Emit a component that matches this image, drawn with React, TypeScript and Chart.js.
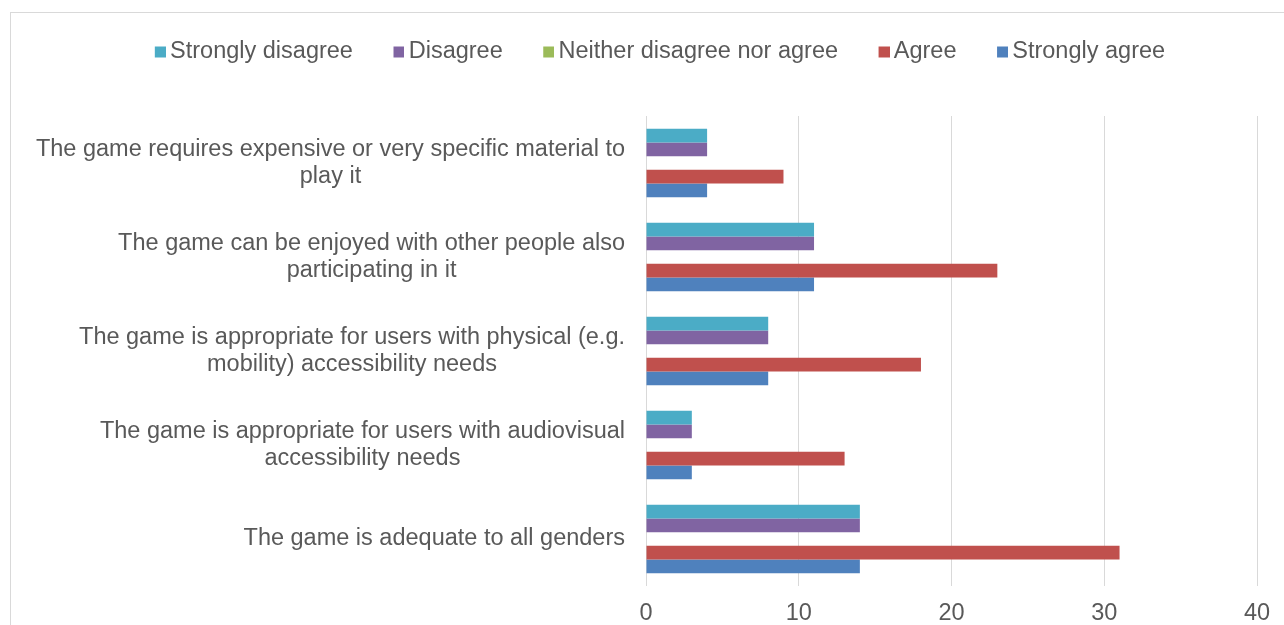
import React, { useEffect, useRef } from 'react';
import { Chart, registerables } from 'chart.js';

Chart.register(...registerables);

// ---- data ----
const CATEGORY_LINES: string[][] = [
  ['The game requires expensive or very specific material to', 'play it'],
  ['The game can be enjoyed with other people also', 'participating in it'],
  ['The game is appropriate for users with physical (e.g.', 'mobility) accessibility needs'],
  ['The game is appropriate for users with audiovisual', 'accessibility needs'],
  ['The game is adequate to all genders'],
];
const SERIES_NAMES = ['Strongly disagree', 'Disagree', 'Neither disagree nor agree', 'Agree', 'Strongly agree'];
const STRONGLY_DISAGREE = [4, 11, 8, 3, 14];
const DISAGREE = [4, 11, 8, 3, 14];
const NEITHER = [0, 0, 0, 0, 0];
const AGREE = [9, 23, 18, 13, 31];
const STRONGLY_AGREE = [4, 11, 8, 3, 14];
const X_TICKS = [0, 10, 20, 30, 40];

// ---- style ----
const COLORS = ['#4BACC6', '#8064A2', '#9BBB59', '#C0504D', '#4F81BD'];
const TEXT = '#595959';
const GRID = '#d9d9d9';
const FONT_FAMILY = '"Liberation Sans", Arial, Helvetica, sans-serif';
const FONT_SIZE = 23.5;
const W = 1284;
const H = 650;

// legend marker: an 11x11 square drawn off-centre in a small canvas
function makeMarker(color: string): HTMLCanvasElement {
  const c = document.createElement('canvas');
  c.width = 16;
  c.height = 14;
  const g = c.getContext('2d')!;
  g.fillStyle = color;
  g.fillRect(5, 2, 11, 11);
  return c;
}

const yLabelPlugin = {
  id: 'yLabels',
  afterDraw(chart: any) {
    const ctx = chart.ctx;
    const ys = chart.scales.y;
    ctx.save();
    ctx.font = `${FONT_SIZE}px ${FONT_FAMILY}`;
    ctx.fillStyle = TEXT;
    ctx.textAlign = 'center';
    ctx.textBaseline = 'middle';
    const lh = 27;
    CATEGORY_LINES.forEach((lines, i) => {
      const cy = ys.getPixelForValue(i);
      const maxW = Math.max(...lines.map((l) => ctx.measureText(l).width));
      const cx = ys.right - 21 - maxW / 2;
      lines.forEach((l, j) => {
        ctx.fillText(l, cx, cy + (j - (lines.length - 1) / 2) * lh);
      });
    });
    ctx.restore();
  },
};

export default function App() {
  const ref = useRef<HTMLCanvasElement | null>(null);

  useEffect(() => {
    if (!ref.current) return;
    const values = [STRONGLY_DISAGREE, DISAGREE, NEITHER, AGREE, STRONGLY_AGREE];
    const markers = COLORS.map(makeMarker);
    const defaultGen = (Chart.defaults.plugins.legend.labels as any).generateLabels;
    const chart = new Chart(ref.current, {
      type: 'bar',
      data: {
        labels: CATEGORY_LINES.map((l) => l.join(' ')),
        datasets: SERIES_NAMES.map((name, i) => ({
          label: name,
          data: values[i],
          backgroundColor: COLORS[i],
          borderWidth: 0,
          xAxisID: 'x',
          categoryPercentage: 0.73,
          barPercentage: 1,
        })),
      },
      options: {
        indexAxis: 'y',
        responsive: false,
        animation: false,
        devicePixelRatio: 1,
        layout: { padding: { left: 64.4, right: 26, top: 16.75, bottom: 0 } },
        plugins: {
          legend: {
            display: true,
            position: 'top',
            align: 'center',
            labels: {
              usePointStyle: true,
              boxWidth: 1,
              boxHeight: 11,
              padding: 43,
              color: TEXT,
              font: { family: FONT_FAMILY, size: FONT_SIZE },
              generateLabels: (ch: any) => {
                const items = defaultGen(ch);
                items.forEach((it: any) => {
                  it.pointStyle = markers[it.datasetIndex];
                  it.lineWidth = 0;
                });
                return items;
              },
            },
          },
          tooltip: { enabled: false },
        },
        scales: {
          x: {
            type: 'linear',
            position: 'bottom',
            min: X_TICKS[0],
            max: X_TICKS[X_TICKS.length - 1],
            grid: { display: true, color: GRID, lineWidth: 1, drawTicks: false },
            border: { display: false },
            ticks: {
              stepSize: X_TICKS[1] - X_TICKS[0],
              padding: 13.9,
              color: TEXT,
              font: { family: FONT_FAMILY, size: FONT_SIZE },
            },
            afterFit: (s: any) => {
              s.height = 44;
            },
          },
          xTop: {
            type: 'linear',
            axis: 'x',
            position: 'top',
            min: X_TICKS[0],
            max: X_TICKS[X_TICKS.length - 1],
            grid: { display: false },
            border: { display: false },
            ticks: { display: false },
            afterFit: (s: any) => {
              s.height = 42.75;
            },
          },
          y: {
            type: 'category',
            offset: true,
            grid: { display: false },
            border: { display: false },
            ticks: { display: false },
            afterFit: (s: any) => {
              s.width = 581.6;
            },
          },
        },
      } as any,
      plugins: [yLabelPlugin],
    });
    return () => chart.destroy();
  }, []);

  return (
    <div style={{ position: 'fixed', left: 0, top: 0, width: W, height: 625, overflow: 'hidden', background: '#ffffff' }}>
      <div
        style={{
          position: 'absolute',
          left: 10,
          top: 12,
          width: 1400,
          height: 800,
          border: '1px solid #d9d9d9',
          boxSizing: 'border-box',
        }}
      />
      <canvas
        ref={ref}
        width={W}
        height={H}
        style={{ position: 'absolute', left: 0, top: -20, width: W, height: H }}
      />
    </div>
  );
}
